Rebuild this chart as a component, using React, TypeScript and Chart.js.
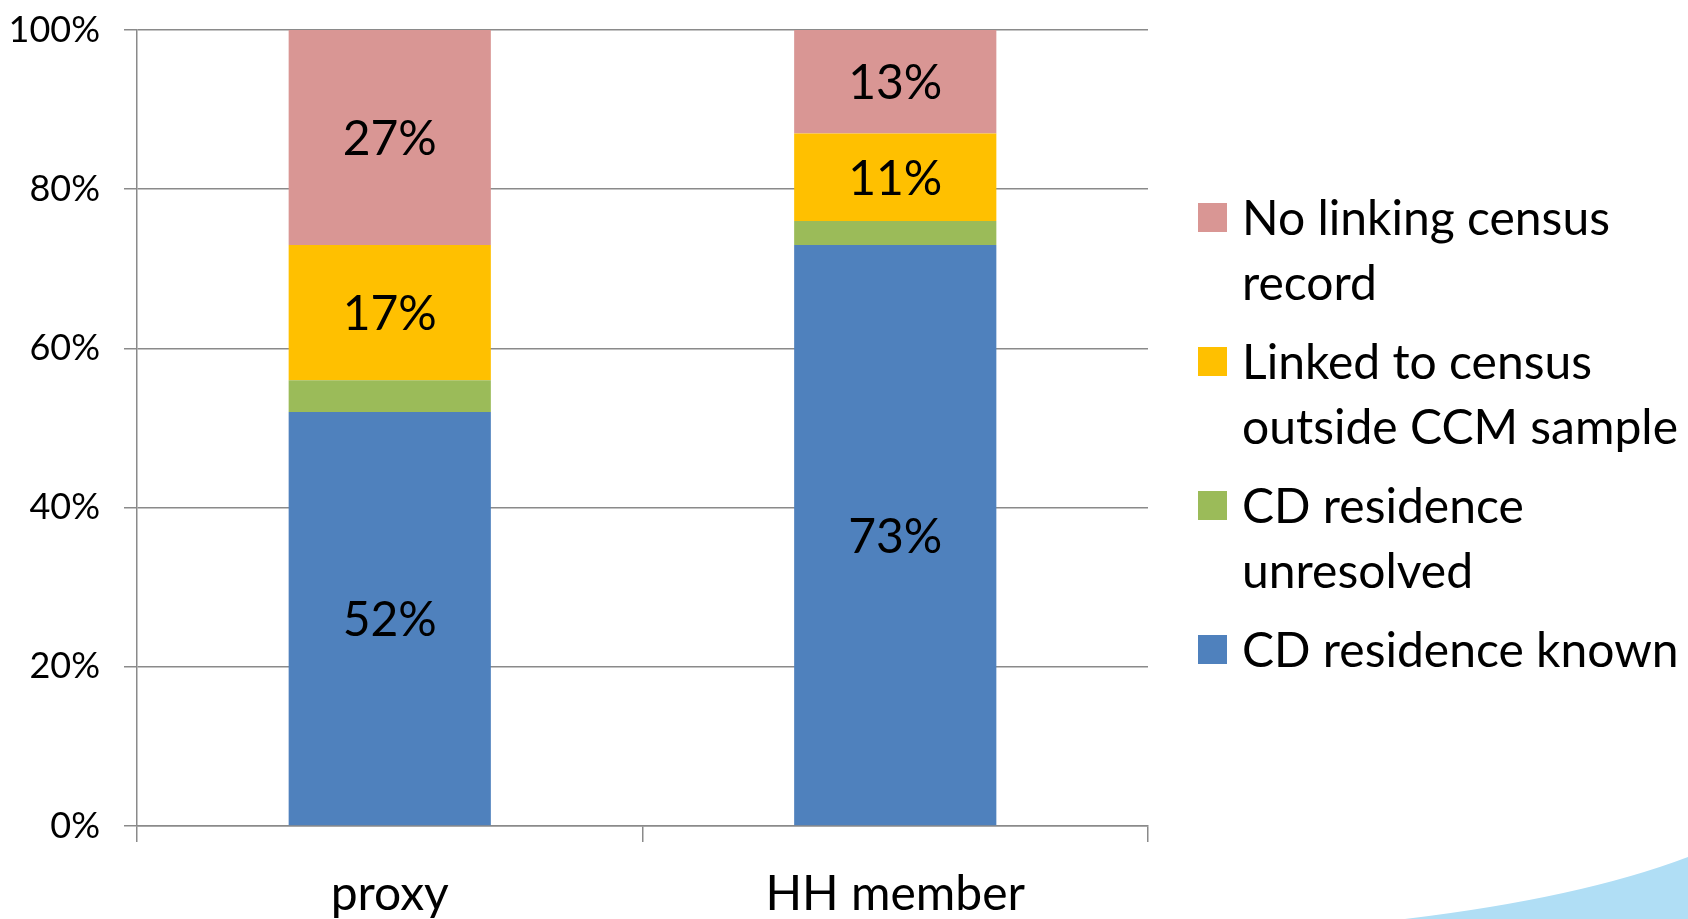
import React, { useEffect, useRef } from "react";
import { Chart, registerables } from "chart.js";

Chart.register(...registerables);

const categories = ["proxy", "HH member"];
const seriesNames = [
  "CD residence known",
  "CD residence unresolved",
  "Linked to census outside CCM sample",
  "No linking census record",
];
const legendLines = [
  ["No linking census", "record"],
  ["Linked to census", "outside CCM sample"],
  ["CD residence", "unresolved"],
  ["CD residence known"],
];
const knownValues = [52, 73];
const unresolvedValues = [4, 3];
const linkedValues = [17, 11];
const noLinkValues = [27, 13];
const seriesColors = ["#4F81BD", "#9BBB59", "#FFC000", "#D99694"];
const showValueLabels = [true, false, true, true];
const yMax = 100;
const yStep = 20;

const FONT = "Lato, 'Open Sans', sans-serif";

const valueLabelPlugin = {
  id: "valueLabels",
  afterDatasetsDraw(chart: any) {
    const ctx = chart.ctx;
    ctx.save();
    ctx.font = `48px ${FONT}`;
    ctx.fillStyle = "#000";
    ctx.textAlign = "center";
    ctx.textBaseline = "middle";
    chart.data.datasets.forEach((ds: any, i: number) => {
      if (!showValueLabels[i]) return;
      const meta = chart.getDatasetMeta(i);
      meta.data.forEach((el: any, j: number) => {
        const y = (el.y + el.base) / 2;
        ctx.fillText(ds.data[j] + "%", el.x, y + 2);
      });
    });
    ctx.restore();
  },
};

const legendPlugin = {
  id: "customLegend",
  afterDraw(chart: any) {
    const ctx = chart.ctx;
    const area = chart.chartArea;
    const lineH = 65;
    const gap = 14;
    const boxSize = 29;
    const boxX = area.right + 50;
    const textX = boxX + 44;
    let top = area.top + 155;
    ctx.save();
    ctx.font = `48px ${FONT}`;
    ctx.textBaseline = "middle";
    ctx.textAlign = "left";
    legendLines.forEach((lines, k) => {
      const dsIndex = seriesColors.length - 1 - k;
      const firstCenter = top + lineH / 2;
      ctx.fillStyle = seriesColors[dsIndex];
      ctx.fillRect(boxX, firstCenter - boxSize / 2, boxSize, boxSize);
      ctx.fillStyle = "#000";
      lines.forEach((t, li) => {
        ctx.fillText(t, textX, firstCenter + li * lineH + 2);
      });
      top += lines.length * lineH + gap;
    });
    ctx.restore();
  },
};

const swooshPlugin = {
  id: "swoosh",
  beforeDraw(chart: any) {
    const ctx = chart.ctx;
    const w = chart.width;
    const h = chart.height;
    ctx.save();
    ctx.fillStyle = "#ffffff";
    ctx.fillRect(0, 0, w, h);
    ctx.beginPath();
    ctx.moveTo(w - 283, h);
    ctx.quadraticCurveTo(w - 108, h - 21, w, h - 62);
    ctx.lineTo(w, h);
    ctx.closePath();
    ctx.fillStyle = "#B0DEF5";
    ctx.fill();
    ctx.restore();
  },
};

export default function App() {
  const canvasRef = useRef<HTMLCanvasElement | null>(null);

  useEffect(() => {
    document.body.style.margin = "0";
    const canvas = canvasRef.current;
    if (!canvas) return;
    const dataArrays = [knownValues, unresolvedValues, linkedValues, noLinkValues];
    const chart = new Chart(canvas, {
      type: "bar",
      data: {
        labels: categories,
        datasets: seriesNames.map((name, i) => ({
          label: name,
          data: dataArrays[i],
          backgroundColor: seriesColors[i],
          borderWidth: 0,
          barPercentage: 0.4,
          categoryPercentage: 1,
        })),
      },
      options: {
        responsive: false,
        animation: false,
        devicePixelRatio: 1,
        layout: { padding: { top: 30, right: 540, left: 0, bottom: 0 } },
        plugins: {
          legend: { display: false },
          tooltip: { enabled: false },
        },
        scales: {
          x: {
            stacked: true,
            grid: {
              offset: true,
              drawOnChartArea: false,
              drawTicks: true,
              tickLength: 16,
              color: "#8a8a8a",
              lineWidth: 1.5,
            },
            border: { display: true, color: "#8a8a8a", width: 1.5 },
            ticks: {
              color: "#000",
              font: { family: FONT, size: 48 },
              padding: 24,
              maxRotation: 0,
            },
            afterFit(scale: any) {
              scale.height = 93;
            },
          },
          y: {
            stacked: true,
            min: 0,
            max: yMax,
            grid: {
              color: "#8a8a8a",
              lineWidth: 1.5,
              tickLength: 13,
              drawTicks: true,
            },
            border: { display: true, color: "#8a8a8a", width: 1.5 },
            ticks: {
              stepSize: yStep,
              color: "#000",
              font: { family: FONT, size: 36 },
              padding: 24,
              callback: (v: any) => v + "%",
            },
            afterFit(scale: any) {
              scale.width = 137;
              scale.paddingTop = 0;
              scale.paddingBottom = 0;
            },
          },
        },
      },
      plugins: [swooshPlugin, valueLabelPlugin, legendPlugin],
    });
    return () => chart.destroy();
  }, []);

  return (
    <div style={{ position: "absolute", left: 0, top: 0, width: 1688, height: 919 }}>
      <canvas ref={canvasRef} width={1688} height={919} />
    </div>
  );
}
